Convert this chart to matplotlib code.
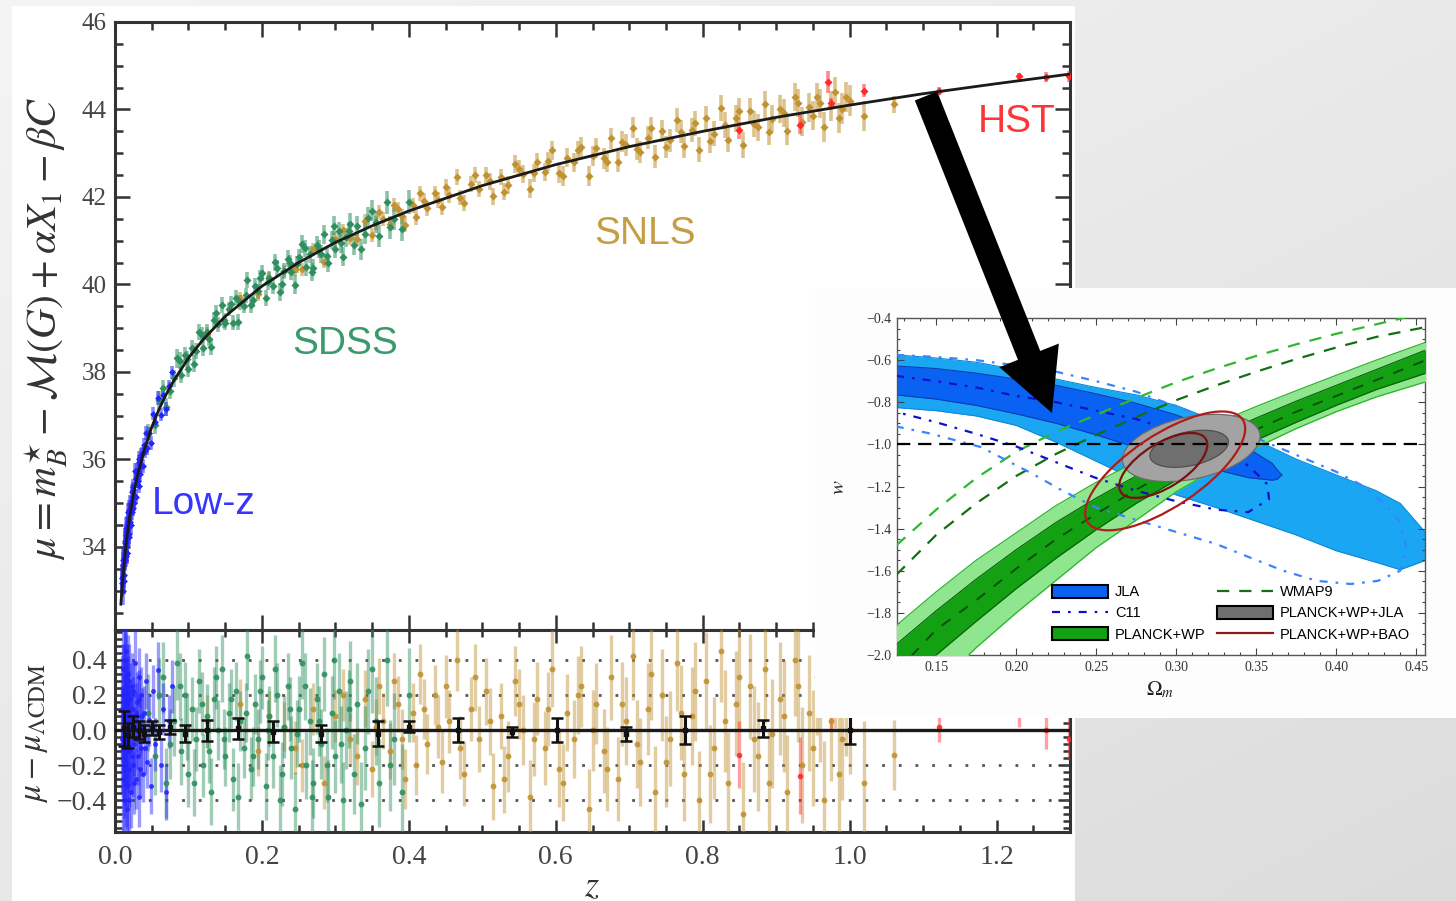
"""
Hubble diagram (JLA) with the w - Omega_m constraint panel pasted on top,
plus the big black arrow pointing from the curve to the inset.
"""

import numpy as np
import matplotlib.pyplot as plt
import matplotlib.transforms as mtransforms
from matplotlib.patches import Circle, Patch, FancyArrow, Rectangle
from matplotlib.lines import Line2D
from matplotlib.ticker import MultipleLocator, FuncFormatter
from matplotlib.colors import to_rgba

plt.rcParams["mathtext.fontset"] = "stix"
SERIF = "Liberation Serif"
SANS = "Liberation Sans"

# ---- Hubble diagram data -------------------------------------------------

# LCDM distance modulus curve
MODEL_Z = [0.008, 0.010, 0.015, 0.020, 0.025, 0.030, 0.040, 0.050, 0.060, 0.070,
           0.080, 0.100, 0.120, 0.150, 0.200, 0.250, 0.300, 0.350, 0.400, 0.500,
           0.600, 0.700, 0.800, 0.900, 1.000, 1.100, 1.200, 1.300]
MODEL_MU = [32.69, 33.18, 34.06, 34.70, 35.19, 35.59, 36.23, 36.74, 37.15, 37.50,
            37.80, 38.32, 38.74, 39.27, 39.96, 40.50, 40.96, 41.34, 41.68, 42.26,
            42.74, 43.15, 43.50, 43.82, 44.10, 44.36, 44.59, 44.81]

# residuals mu - mu_LCDM per sample
LOWZ_Z = [0.0100, 0.0105, 0.0110, 0.0115, 0.0120, 0.0125, 0.0130, 0.0135, 0.0140, 0.0145,
          0.0150, 0.0155, 0.0160, 0.0165, 0.0170, 0.0175, 0.0180, 0.0185, 0.0190, 0.0200,
          0.0210, 0.0215, 0.0220, 0.0230, 0.0240, 0.0250, 0.0260, 0.0270, 0.0280, 0.0290,
          0.0300, 0.0310, 0.0320, 0.0330, 0.0340, 0.0350, 0.0360, 0.0380, 0.0400, 0.0420,
          0.0440, 0.0460, 0.0490, 0.0520, 0.0550, 0.0580, 0.0620, 0.0660, 0.0700, 0.0740,
          0.0780, 0.0102, 0.0112, 0.0122, 0.0132, 0.0142, 0.0152, 0.0162, 0.0172, 0.0182,
          0.0195, 0.0205, 0.0225, 0.0245, 0.0265, 0.0285, 0.0305, 0.0325, 0.0345, 0.0370,
          0.0410]
LOWZ_RES = [0.12, -0.28, 0.35, -0.10, 0.22, -0.40, 0.05, 0.30, -0.18, 0.45,
            -0.05, 0.15, -0.32, 0.10, -0.45, 0.20, 0.02, -0.22, 0.28, -0.12,
            0.18, -0.35, 0.08, 0.25, -0.20, 0.12, -0.08, 0.38, -0.28, 0.05,
            0.16, -0.15, 0.30, -0.38, 0.02, 0.20, -0.10, -0.25, 0.10, 0.28,
            -0.18, 0.06, -0.32, 0.22, -0.08, 0.34, -0.20, 0.12, -0.35, 0.05,
            0.25, -0.05, 0.20, -0.22, 0.40, 0.00, -0.30, 0.25, -0.12, 0.32,
            -0.40, 0.05, -0.15, 0.22, -0.30, 0.10, -0.05, 0.18, -0.22, 0.08,
            -0.10]
LOWZ_ERR = [0.30, 0.32, 0.30, 0.28, 0.27, 0.30, 0.26, 0.26, 0.25, 0.27,
            0.24, 0.24, 0.25, 0.22, 0.24, 0.22, 0.21, 0.22, 0.21, 0.20,
            0.20, 0.21, 0.19, 0.19, 0.18, 0.18, 0.18, 0.19, 0.17, 0.17,
            0.17, 0.16, 0.17, 0.17, 0.16, 0.16, 0.16, 0.16, 0.15, 0.16,
            0.15, 0.15, 0.16, 0.15, 0.15, 0.16, 0.15, 0.15, 0.16, 0.15,
            0.15, 0.30, 0.29, 0.28, 0.27, 0.26, 0.25, 0.24, 0.23, 0.22,
            0.22, 0.20, 0.19, 0.18, 0.18, 0.17, 0.17, 0.16, 0.16, 0.16,
            0.15]

SDSS_Z = [0.045, 0.055, 0.065, 0.070, 0.080, 0.085, 0.090, 0.095, 0.100, 0.105,
          0.110, 0.115, 0.120, 0.125, 0.130, 0.135, 0.140, 0.145, 0.150, 0.155,
          0.160, 0.165, 0.170, 0.175, 0.180, 0.185, 0.190, 0.195, 0.200, 0.205,
          0.210, 0.215, 0.220, 0.225, 0.230, 0.235, 0.240, 0.245, 0.250, 0.255,
          0.260, 0.265, 0.270, 0.275, 0.280, 0.285, 0.290, 0.295, 0.300, 0.305,
          0.310, 0.315, 0.320, 0.325, 0.330, 0.340, 0.350, 0.360, 0.370, 0.380,
          0.390, 0.400, 0.060, 0.075, 0.088, 0.098, 0.108, 0.118, 0.128, 0.138,
          0.148, 0.158, 0.168, 0.178, 0.188, 0.198, 0.208, 0.218, 0.228, 0.238,
          0.248, 0.258, 0.268, 0.278, 0.288, 0.298, 0.308, 0.318, 0.335, 0.345,
          0.355, 0.375]
SDSS_RES = [0.10, -0.15, 0.30, -0.30, 0.05, 0.38, -0.12, 0.20, -0.25, 0.12,
            -0.05, 0.28, -0.20, 0.08, -0.35, 0.18, 0.00, 0.35, -0.15, 0.10,
            -0.28, 0.22, 0.05, -0.10, 0.42, -0.22, 0.15, -0.05, 0.30, -0.32,
            0.08, -0.15, 0.20, -0.40, 0.02, 0.25, -0.10, -0.45, 0.12, 0.38,
            -0.20, 0.05, -0.30, 0.18, -0.08, 0.32, -0.38, 0.10, -0.15, 0.22,
            -0.40, 0.00, 0.28, -0.25, 0.15, -0.10, 0.35, -0.30, 0.40, -0.05,
            -0.35, 0.20, 0.20, -0.08, 0.25, 0.02, -0.30, 0.15, -0.12, 0.30,
            -0.05, 0.18, -0.38, 0.10, -0.15, 0.22, 0.00, 0.35, -0.25, 0.12,
            -0.02, 0.25, -0.38, 0.05, -0.20, 0.40, -0.08, 0.12, -0.42, 0.22,
            0.05, -0.20]
SDSS_ERR = [0.22, 0.22, 0.20, 0.20, 0.20, 0.21, 0.19, 0.19, 0.19, 0.18,
            0.18, 0.18, 0.18, 0.18, 0.19, 0.18, 0.17, 0.19, 0.17, 0.17,
            0.18, 0.17, 0.17, 0.17, 0.19, 0.18, 0.17, 0.17, 0.18, 0.19,
            0.17, 0.18, 0.18, 0.20, 0.18, 0.19, 0.18, 0.21, 0.19, 0.20,
            0.19, 0.19, 0.20, 0.20, 0.20, 0.21, 0.21, 0.21, 0.21, 0.22,
            0.22, 0.22, 0.23, 0.23, 0.23, 0.24, 0.25, 0.25, 0.26, 0.26,
            0.27, 0.27, 0.21, 0.20, 0.19, 0.19, 0.19, 0.18, 0.18, 0.18,
            0.17, 0.17, 0.19, 0.17, 0.17, 0.18, 0.17, 0.19, 0.18, 0.18,
            0.19, 0.19, 0.21, 0.20, 0.21, 0.22, 0.22, 0.22, 0.24, 0.24,
            0.25, 0.26]

SNLS_Z = [0.125, 0.170, 0.195, 0.230, 0.255, 0.270, 0.285, 0.300, 0.320, 0.340,
          0.350, 0.360, 0.365, 0.375, 0.385, 0.395, 0.405, 0.415, 0.425, 0.435,
          0.445, 0.455, 0.465, 0.475, 0.485, 0.495, 0.505, 0.515, 0.525, 0.535,
          0.545, 0.555, 0.565, 0.575, 0.585, 0.595, 0.605, 0.615, 0.625, 0.635,
          0.645, 0.655, 0.665, 0.675, 0.685, 0.695, 0.705, 0.715, 0.725, 0.735,
          0.745, 0.755, 0.765, 0.775, 0.785, 0.795, 0.805, 0.815, 0.825, 0.835,
          0.845, 0.855, 0.865, 0.875, 0.885, 0.895, 0.905, 0.915, 0.925, 0.935,
          0.945, 0.955, 0.965, 0.975, 0.985, 0.995, 1.020, 1.060, 0.210, 0.245,
          0.310, 0.330, 0.355, 0.380, 0.390, 0.410, 0.420, 0.440, 0.450, 0.470,
          0.490, 0.510, 0.530, 0.550, 0.570, 0.590, 0.610, 0.630, 0.650, 0.670,
          0.690, 0.710, 0.730, 0.750, 0.770, 0.790, 0.810, 0.830, 0.850, 0.870,
          0.890, 0.910, 0.930, 0.950, 0.960, 0.980, 0.990, 1.000]
SNLS_RES = [0.05, 0.15, -0.12, 0.02, -0.20, 0.12, -0.30, 0.08, -0.05, 0.18,
            -0.22, 0.25, 0.05, -0.12, 0.15, -0.28, 0.10, 0.32, -0.08, 0.20,
            -0.18, 0.05, 0.40, -0.25, 0.12, -0.05, 0.22, -0.32, 0.08, -0.15,
            0.28, 0.00, -0.38, 0.18, -0.10, 0.35, -0.22, 0.10, -0.05, 0.25,
            -0.45, 0.15, -0.12, 0.30, -0.28, 0.05, 0.42, -0.18, 0.12, -0.35,
            0.20, -0.05, 0.38, -0.25, 0.08, -0.40, 0.28, -0.10, 0.45, -0.30,
            0.15, -0.48, 0.25, -0.15, 0.35, -0.02, 0.18, -0.35, 0.40, -0.20,
            0.10, 0.30, -0.40, 0.05, -0.25, 0.20, -0.30, -0.14, 0.08, -0.10,
            0.20, -0.15, 0.02, 0.28, -0.05, -0.20, 0.12, 0.02, 0.25, -0.10,
            0.30, 0.05, -0.28, 0.15, -0.05, 0.12, -0.30, 0.20, 0.00, -0.22,
            0.15, -0.08, 0.32, -0.18, 0.10, 0.22, -0.25, 0.05, 0.30, -0.05,
            -0.30, 0.08, 0.25, -0.10, 0.15, 0.35, -0.05, 0.10]
SNLS_ERR = [0.15, 0.14, 0.14, 0.14, 0.15, 0.15, 0.15, 0.15, 0.15, 0.16,
            0.16, 0.16, 0.16, 0.16, 0.16, 0.17, 0.17, 0.17, 0.17, 0.17,
            0.18, 0.18, 0.18, 0.18, 0.18, 0.19, 0.19, 0.19, 0.19, 0.20,
            0.20, 0.20, 0.21, 0.21, 0.21, 0.22, 0.22, 0.22, 0.22, 0.23,
            0.23, 0.23, 0.24, 0.24, 0.24, 0.25, 0.25, 0.25, 0.26, 0.26,
            0.26, 0.27, 0.27, 0.27, 0.28, 0.28, 0.28, 0.29, 0.29, 0.29,
            0.30, 0.30, 0.30, 0.31, 0.31, 0.31, 0.32, 0.32, 0.32, 0.33,
            0.33, 0.33, 0.34, 0.34, 0.35, 0.35, 0.35, 0.20, 0.14, 0.15,
            0.15, 0.16, 0.16, 0.16, 0.17, 0.17, 0.17, 0.18, 0.18, 0.18,
            0.19, 0.19, 0.19, 0.20, 0.21, 0.21, 0.22, 0.22, 0.23, 0.24,
            0.24, 0.25, 0.26, 0.26, 0.27, 0.28, 0.28, 0.29, 0.30, 0.30,
            0.31, 0.32, 0.32, 0.33, 0.33, 0.34, 0.35, 0.35]

HST_Z = [0.850, 0.932, 0.970, 0.975, 1.020, 1.121, 1.231, 1.267, 1.299]
HST_RES = [-0.14, -0.26, 0.62, 0.12, 0.28, 0.02, 0.10, 0.00, -0.05]
HST_ERR = [0.19, 0.22, 0.25, 0.12, 0.15, 0.09, 0.08, 0.11, 0.12]

# binned residuals (black)
BIN_Z = [0.012, 0.018, 0.025, 0.032, 0.040, 0.050, 0.060, 0.075, 0.095, 0.125,
         0.168, 0.215, 0.281, 0.358, 0.400, 0.467, 0.540, 0.601, 0.696, 0.776,
         0.882, 1.000]
BIN_RES = [0.01, -0.03, 0.02, 0.00, -0.02, 0.01, -0.01, 0.02, -0.02, 0.00,
           0.01, -0.01, -0.02, -0.02, 0.02, 0.00, -0.01, 0.00, -0.02, 0.00,
           0.01, 0.00]
BIN_ERR = [0.10, 0.07, 0.06, 0.05, 0.05, 0.04, 0.04, 0.04, 0.05, 0.06,
           0.06, 0.06, 0.05, 0.07, 0.03, 0.07, 0.03, 0.07, 0.04, 0.08,
           0.05, 0.08]

# ---- w - Omega_m inset data ----------------------------------------------

OM_GRID = [0.125, 0.15, 0.175, 0.20, 0.225, 0.25, 0.275, 0.30, 0.325, 0.35,
           0.375, 0.40, 0.425, 0.456]
PLANCK_UP2 = [-1.86, -1.70, -1.55, -1.42, -1.29, -1.18, -1.08, -0.985, -0.90, -0.82,
              -0.745, -0.672, -0.60, -0.515]
PLANCK_UP1 = [-1.95, -1.79, -1.64, -1.50, -1.37, -1.255, -1.15, -1.05, -0.96, -0.875,
              -0.795, -0.72, -0.645, -0.552]
PLANCK_LO1 = [-2.20, -2.00, -1.84, -1.685, -1.54, -1.405, -1.28, -1.17, -1.07, -0.98,
              -0.895, -0.815, -0.74, -0.662]
PLANCK_LO2 = [-2.35, -2.15, -1.965, -1.80, -1.645, -1.49, -1.36, -1.225, -1.115, -1.015,
              -0.925, -0.845, -0.775, -0.703]
PLANCK_MID = [-2.08, -1.88, -1.74, -1.59, -1.45, -1.33, -1.215, -1.11, -1.015, -0.93,
              -0.845, -0.77, -0.695, -0.60]
WMAP_2SIG = [-1.48, -1.31, -1.16, -1.035, -0.94, -0.86, -0.78, -0.705, -0.64, -0.58,
             -0.525, -0.475, -0.43, -0.375]
WMAP_1SIG = [-1.62, -1.43, -1.28, -1.15, -1.045, -0.955, -0.87, -0.79, -0.72, -0.655,
             -0.595, -0.54, -0.49, -0.443]

JLA2_OM = [0.125, 0.15, 0.175, 0.20, 0.225, 0.25, 0.275, 0.30, 0.325, 0.35,
           0.375, 0.40, 0.425, 0.44, 0.456]
JLA_UP2 = [-0.575, -0.59, -0.61, -0.645, -0.69, -0.73, -0.765, -0.815, -0.89, -0.98,
           -1.07, -1.145, -1.22, -1.28, -1.42]
JLA_LO2 = [-0.825, -0.84, -0.865, -0.91, -0.99, -1.08, -1.17, -1.24, -1.30, -1.365,
           -1.43, -1.505, -1.56, -1.595, -1.55]
JLA1_OM = [0.125, 0.15, 0.175, 0.20, 0.225, 0.25, 0.275, 0.30, 0.325, 0.345,
           0.36, 0.363, 0.366]
JLA_UP1 = [-0.628, -0.64, -0.662, -0.69, -0.72, -0.76, -0.805, -0.86, -0.935, -1.02,
           -1.09, -1.12, -1.145]
JLA_LO1 = [-0.765, -0.785, -0.815, -0.855, -0.90, -0.955, -1.015, -1.07, -1.12, -1.158,
           -1.17, -1.166, -1.145]

C11_1SIG_OM = [0.125, 0.15, 0.175, 0.20, 0.225, 0.25, 0.275, 0.30, 0.325, 0.345,
               0.357, 0.358, 0.345, 0.325, 0.30, 0.275, 0.25, 0.225, 0.20, 0.175,
               0.15, 0.125]
C11_1SIG_W = [-0.675, -0.70, -0.73, -0.77, -0.80, -0.84, -0.88, -0.94, -1.02, -1.10,
              -1.19, -1.26, -1.322, -1.31, -1.27, -1.22, -1.16, -1.085, -1.01, -0.95,
              -0.895, -0.846]
C11_2SIG_OM = [0.125, 0.15, 0.175, 0.20, 0.225, 0.25, 0.275, 0.30, 0.325, 0.35,
               0.375, 0.40, 0.415, 0.43, 0.44, 0.444, 0.44, 0.426, 0.409, 0.388,
               0.367, 0.346, 0.325, 0.304, 0.28, 0.25, 0.229, 0.209, 0.178, 0.146,
               0.125]
C11_2SIG_W = [-0.575, -0.585, -0.60, -0.625, -0.655, -0.70, -0.75, -0.82, -0.89, -0.97,
              -1.05, -1.13, -1.19, -1.28, -1.37, -1.50, -1.60, -1.648, -1.663, -1.648,
              -1.60, -1.537, -1.473, -1.425, -1.37, -1.30, -1.22, -1.135, -1.013, -0.948,
              -0.915]

# ellipses: [2 sigma, 1 sigma]; semi axes in Omega_m units, angle on screen
PWJ_OM = [0.3094, 0.3081]
PWJ_W = [-1.017, -1.021]
PWJ_A = [0.0438, 0.0250]
PWJ_B = [0.0194, 0.0106]
PWJ_ANGLE = [12, 12]
BAO_OM = [0.2931, 0.2919]
BAO_W = [-1.126, -1.100]
BAO_A = [0.0581, 0.0313]
BAO_B = [0.0225, 0.0138]
BAO_ANGLE = [33.5, 32]

LEGEND_LABELS = ["JLA", "C11", "PLANCK+WP", "WMAP9", "PLANCK+WP+JLA", "PLANCK+WP+BAO"]

# colours
C_LOWZ = "#2424ff"
C_SDSS = "#2f8f5f"
C_SNLS = "#c09232"
C_HST = "#ff2a2a"
C_JLA2 = "#1aa6f2"
C_JLA1 = "#0a62f2"
C_GREEN2 = "#8fe68f"
C_GREEN1 = "#13a013"

W, H = 1456, 901
fig = plt.figure(figsize=(W / 100, H / 100), dpi=100)


def px_rect(x0, y0, x1, y1):
    # pixel box (y from top) -> figure fraction rect
    return [x0 / W, 1 - y1 / H, (x1 - x0) / W, (y1 - y0) / H]


def minus(fmt):
    return FuncFormatter(lambda v, p: (fmt % (round(v, 3) + 0.0)).replace("-", "\u2212"))


# slide background + white picture area
bg = fig.add_axes([0, 0, 1, 1], zorder=-10)
gx, gy = np.meshgrid(np.linspace(0, 1, 300), np.linspace(0, 1, 300))
bg.imshow(0.955 - 0.095 * (0.45 * gx + 0.55 * gy), cmap="gray", vmin=0, vmax=1,
          extent=[0, 1, 0, 1], aspect="auto", origin="upper")
bg.add_patch(Rectangle((12 / W, 0), 1063 / W, 895 / H, facecolor="white", edgecolor="none"))
bg.set_xlim(0, 1)
bg.set_ylim(0, 1)
bg.axis("off")

ax_top = fig.add_axes(px_rect(115, 22, 1070, 630))
ax_bot = fig.add_axes(px_rect(115, 630, 1070, 832))


def draw_sample(z, res, err, color, ms):
    z = np.asarray(z)
    res = np.asarray(res)
    mu = np.interp(z, MODEL_Z, MODEL_MU) + res
    ax_top.errorbar(z, mu, yerr=err, fmt="D", ms=ms, mfc=color, mec="none",
                    ecolor=to_rgba(color, 0.55), elinewidth=2.6, capsize=0, zorder=3)
    ax_bot.errorbar(z, res, yerr=err, fmt="o", ms=ms, mfc=to_rgba(color, 0.9), mec="none",
                    ecolor=to_rgba(color, 0.45), elinewidth=2.4, capsize=0, zorder=3)


draw_sample(SNLS_Z, SNLS_RES, SNLS_ERR, C_SNLS, 4.2)
draw_sample(SDSS_Z, SDSS_RES, SDSS_ERR, C_SDSS, 4.2)
draw_sample(LOWZ_Z, LOWZ_RES, LOWZ_ERR, C_LOWZ, 3.5)
draw_sample(HST_Z, HST_RES, HST_ERR, C_HST, 4.0)

ax_top.plot(MODEL_Z, MODEL_MU, color="#1a1a1a", lw=2.0, zorder=5)

ax_bot.axhline(0, color="#1a1a1a", lw=2.4, zorder=4)
for yv in [-0.4, -0.2, 0.2, 0.4]:
    ax_bot.axhline(yv, color="#555555", lw=2.0, ls=(0, (1, 5)), zorder=2)
ax_bot.errorbar(BIN_Z, BIN_RES, yerr=BIN_ERR, fmt="s", ms=3.5, color="#111111",
                elinewidth=2.2, capsize=4, capthick=1.8, zorder=6)

# sample labels
lab = dict(fontsize=28, family=SANS, ha="center", va="baseline", zorder=6)
ax_top.text(0.313, 38.41, "SDSS", color="#3b9a6b", **lab)
ax_top.text(0.721, 40.93, "SNLS", color="#c59d42", **lab)
ax_top.text(0.120, 34.75, "Low-z", color="#3535ff", **lab)
ax_top.text(1.227, 43.49, "HST", color="#ff3535", **lab)

for ax in (ax_top, ax_bot):
    ax.set_xlim(0, 1.3)
    for sp in ax.spines.values():
        sp.set_linewidth(2.2)
        sp.set_color("#333333")
    ax.xaxis.set_major_locator(MultipleLocator(0.2))
    ax.xaxis.set_minor_locator(MultipleLocator(0.05))
    ax.tick_params(which="both", direction="in", top=True, right=True,
                   color="#333333", width=1.8, labelcolor="#444444")

ax_top.set_ylim(32.1, 46)
ax_top.yaxis.set_major_locator(MultipleLocator(2))
ax_top.yaxis.set_minor_locator(MultipleLocator(0.5))
ax_top.yaxis.set_major_formatter(minus("%.0f"))
ax_top.tick_params(which="major", length=11, labelsize=18, pad=6, labelbottom=False)
ax_top.tick_params(which="minor", length=6)

ax_bot.set_ylim(-0.58, 0.57)
ax_bot.yaxis.set_major_locator(MultipleLocator(0.2))
ax_bot.yaxis.set_minor_locator(MultipleLocator(0.04))
ax_bot.yaxis.set_major_formatter(minus("%.1f"))
ax_bot.xaxis.set_major_formatter(minus("%.1f"))
ax_bot.tick_params(which="major", length=9, labelsize=20, pad=6)
ax_bot.tick_params(which="minor", length=5)
ax_bot.tick_params(axis="x", pad=9)
for ax in (ax_top, ax_bot):
    for t in ax.get_xticklabels() + ax.get_yticklabels():
        t.set_family(SERIF)

fig.text(46 / W, 1 - 328 / H, r"$\mu = m_B^{\star} - \mathcal{M}(G) + \alpha X_1 - \beta C$",
         rotation=90, ha="center", va="center", fontsize=30, color="#333333")
fig.text(34 / W, 1 - 733 / H, r"$\mu - \mu_{\Lambda\mathrm{CDM}}$",
         rotation=90, ha="center", va="center", fontsize=24, color="#333333")
fig.text(592 / W, 1 - 886 / H, r"$z$", ha="center", va="center", fontsize=26, color="#333333")

# ---- inset ---------------------------------------------------------------

box = fig.add_axes(px_rect(815, 288, 1456, 718), zorder=5)
box.set_facecolor("#fcfdfc")
box.set_xticks([])
box.set_yticks([])
for sp in box.spines.values():
    sp.set_visible(False)

ax_in = fig.add_axes(px_rect(897, 318, 1425, 655), zorder=6)
xmin, xmax, ymin, ymax = 0.1255, 0.4555, -2.0, -0.4
ax_in.set_xlim(xmin, xmax)
ax_in.set_ylim(ymin, ymax)

ax_in.fill_between(JLA2_OM, JLA_LO2, JLA_UP2, color=C_JLA2, lw=0, zorder=1)
ax_in.plot(JLA2_OM, JLA_UP2, color="#0b8ad8", lw=0.8, zorder=1)
ax_in.plot(JLA2_OM, JLA_LO2, color="#0b8ad8", lw=0.8, zorder=1)
ax_in.fill_between(JLA1_OM, JLA_LO1, JLA_UP1, color=C_JLA1, lw=0, zorder=2)
ax_in.plot(JLA1_OM, JLA_UP1, color="#0a3cb0", lw=0.8, zorder=2)
ax_in.plot(JLA1_OM, JLA_LO1, color="#0a3cb0", lw=0.8, zorder=2)

ax_in.fill_between(OM_GRID, PLANCK_LO2, PLANCK_UP2, color=C_GREEN2, lw=0, zorder=3)
for edge in (PLANCK_LO2, PLANCK_UP2):
    ax_in.plot(OM_GRID, edge, color="#2cb42c", lw=0.9, zorder=3)
ax_in.fill_between(OM_GRID, PLANCK_LO1, PLANCK_UP1, color=C_GREEN1, lw=0, zorder=4)
for edge in (PLANCK_LO1, PLANCK_UP1):
    ax_in.plot(OM_GRID, edge, color="#0a660a", lw=0.9, zorder=4)
ax_in.plot(OM_GRID, PLANCK_MID, color="#0b4a0b", lw=1.3, dashes=(6, 6), zorder=5)

ax_in.plot(OM_GRID, WMAP_2SIG, color="#2fb82f", lw=1.6, dashes=(5.5, 4.5), zorder=5)
ax_in.plot(OM_GRID, WMAP_1SIG, color="#127012", lw=1.6, dashes=(5.5, 4.5), zorder=5)

ax_in.plot(C11_2SIG_OM, C11_2SIG_W, color="#3a84ff", lw=1.6, dashes=(3.6, 3.6, 1.2, 3.6), zorder=5)
ax_in.plot(C11_1SIG_OM, C11_1SIG_W, color="#1010cc", lw=1.6, dashes=(3.6, 3.6, 1.2, 3.6), zorder=5)

# ellipses need the on-screen aspect of the inset (w units per Omega_m unit on screen)
pos = ax_in.get_position()
aspect = (pos.width * W / (xmax - xmin)) / (pos.height * H / (ymax - ymin))


def add_ellipse(om, w, a, b, ang, **kw):
    tr = (mtransforms.Affine2D().scale(a, b).rotate_deg(ang)
          .scale(1.0, aspect).translate(om, w) + ax_in.transData)
    ax_in.add_patch(Circle((0, 0), 1.0, transform=tr, **kw))


add_ellipse(PWJ_OM[0], PWJ_W[0], PWJ_A[0], PWJ_B[0], PWJ_ANGLE[0],
            facecolor="#a3a3a3", edgecolor="#6a6a6a", lw=0.9, zorder=6)
add_ellipse(PWJ_OM[1], PWJ_W[1], PWJ_A[1], PWJ_B[1], PWJ_ANGLE[1],
            facecolor="#6f6f6f", edgecolor="#505050", lw=0.9, zorder=7)
ax_in.axhline(-1.0, color="black", lw=1.6, dashes=(6, 3.5), zorder=8)
add_ellipse(BAO_OM[0], BAO_W[0], BAO_A[0], BAO_B[0], BAO_ANGLE[0],
            facecolor="none", edgecolor="#b01c1c", lw=1.6, zorder=9)
add_ellipse(BAO_OM[1], BAO_W[1], BAO_A[1], BAO_B[1], BAO_ANGLE[1],
            facecolor="none", edgecolor="#7a1010", lw=1.6, zorder=9)

ax_in.xaxis.set_major_locator(MultipleLocator(0.05))
ax_in.xaxis.set_minor_locator(MultipleLocator(0.01))
ax_in.yaxis.set_major_locator(MultipleLocator(0.2))
ax_in.yaxis.set_minor_locator(MultipleLocator(0.05))
ax_in.xaxis.set_major_formatter(minus("%.2f"))
ax_in.yaxis.set_major_formatter(minus("%.1f"))
ax_in.tick_params(which="both", direction="in", top=True, right=True, color="#444444",
                  width=0.8, labelsize=10, labelcolor="#333333")
ax_in.tick_params(which="major", length=5, pad=4)
ax_in.tick_params(which="minor", length=2.5)
for t in ax_in.get_xticklabels() + ax_in.get_yticklabels():
    t.set_family(SERIF)
for sp in ax_in.spines.values():
    sp.set_color("#555555")
    sp.set_linewidth(1.0)

ax_in.text(838 / W, 1 - 487 / H, r"$w$", transform=fig.transFigure, rotation=90,
           ha="center", va="center", fontsize=15, color="#222222")
ax_in.text(1160 / W, 1 - 690 / H, r"$\Omega_m$", transform=fig.transFigure,
           ha="center", va="center", fontsize=15, color="#222222")

handles = [
    Patch(facecolor=C_JLA1, edgecolor="black", lw=1.5),
    Line2D([], [], color="#1010cc", lw=1.6, dashes=(3.6, 3.6, 1.2, 3.6)),
    Patch(facecolor=C_GREEN1, edgecolor="black", lw=1.5),
    Line2D([], [], color="#127012", lw=1.6, dashes=(5.5, 4.5)),
    Patch(facecolor="#6f6f6f", edgecolor="black", lw=1.5),
    Line2D([], [], color="#8b1a1a", lw=1.6),
]
leg = ax_in.legend(handles, LEGEND_LABELS, ncol=2, loc="lower right",
                   bbox_to_anchor=(0.972, 0.04), frameon=False,
                   prop={"family": SANS, "size": 10.5}, handlelength=3.8, handleheight=1.0,
                   labelspacing=0.45, columnspacing=0.8, handletextpad=0.5,
                   borderaxespad=0, borderpad=0)
leg.set_zorder(12)

# ---- arrow ---------------------------------------------------------------

over = fig.add_axes([0, 0, 1, 1], zorder=20)
over.set_xlim(0, W)
over.set_ylim(H, 0)
over.axis("off")
over.add_patch(FancyArrow(926, 96, 126, 317, width=24, head_width=64, head_length=62,
                          length_includes_head=True, color="black", lw=0))

fig.savefig("out.png", dpi=100)
